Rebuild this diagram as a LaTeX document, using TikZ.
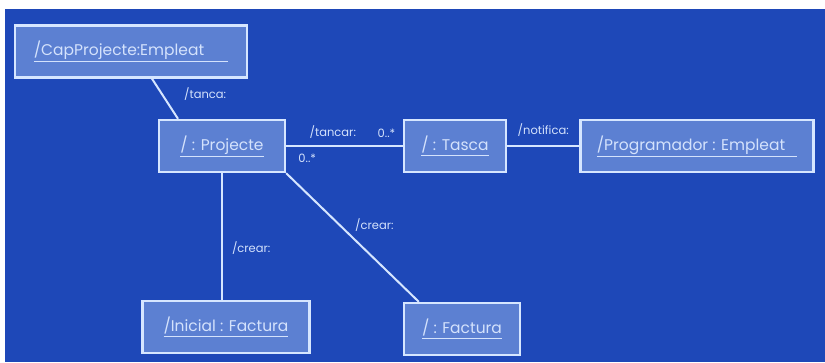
\documentclass[tikz,border=0pt]{standalone}
\usepackage{fontspec}
\setmainfont{Poppins}
\usetikzlibrary{positioning}
\definecolor{canvas}{HTML}{1E48B8}
\definecolor{boxfill}{HTML}{5C80D2}
\definecolor{edge}{HTML}{D6E6FF}
\definecolor{inktext}{HTML}{D4E2FC}

\begin{document}
\begin{tikzpicture}[
  x=1pt, y=-1pt,
  font=\fontsize{15.5}{18}\selectfont,
  objbox/.style={draw=edge, line width=2.4pt, fill=boxfill,
    minimum height=52pt, text=inktext, inner sep=0pt},
  link/.style={draw=edge, line width=2pt},
  role/.style={font=\fontsize{11.5}{13}\selectfont, text=inktext, inner sep=1pt},
]
  % canvas and margins
  \useasboundingbox (0,0) rectangle (825,362);
  \fill[white] (0,0) rectangle (825,362);
  \fill[canvas] (5,9) rectangle (825,362);

  % objects
  \node[objbox, minimum width=232pt] (cap) at (131,51.5)
    {\underline{/CapProjecte:Empleat\hspace{24pt}}};
  \node[objbox, minimum width=126pt] (proj) at (222,146)
    {\underline{/ : Projecte}};
  \node[objbox, minimum width=102pt] (tasca) at (455,146)
    {\underline{/ : Tasca}};
  \node[objbox, minimum width=233pt] (prog) at (697,146)
    {\underline{/Programador : Empleat\hspace{12pt}}};
  \node[objbox, minimum width=167pt] (inicial) at (226,327)
    {\underline{/Inicial : Factura}};
  \node[objbox, minimum width=116pt] (fact) at (462,329)
    {\underline{/ : Factura}};

  % links
  \draw[link] ([xshift=21pt]cap.south) -- ([xshift=-44pt]proj.north)
    node[role, pos=0.39, right=20pt] {/tanca:};
  \draw[link] (proj) -- (tasca)
    node[role, pos=0.4, above=6pt] {/tancar:}
    node[role, pos=0.86, above=6pt] {0..*}
    node[role, pos=0.18, below=6pt] {0..*};
  \draw[link] (tasca) -- (prog)
    node[role, midway, above=8pt] {/notifica:};
  \draw[link] (proj.south) -- (proj.south |- inicial.north)
    node[role, pos=0.59, right=8pt] {/crear:};
  \draw[link] (proj.south east) -- ([xshift=16pt]fact.north west)
    node[role, pos=0.4, right=14pt] {/crear:};
\end{tikzpicture}
\end{document}
